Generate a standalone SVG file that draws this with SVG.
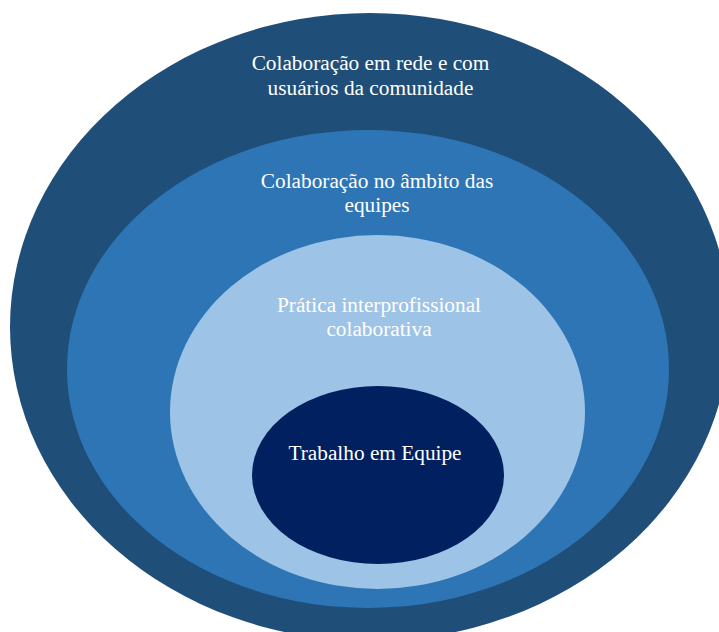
<svg xmlns="http://www.w3.org/2000/svg" width="719" height="632" viewBox="0 0 719 632">
  <style>
    .lbl { font-family: "Liberation Serif", "Times New Roman", serif; font-size: 21.3px; fill: #ffffff; text-anchor: middle; }
  </style>
  <rect x="0" y="0" width="719" height="632" fill="#ffffff"/>
  <!-- nested collaboration levels, outermost first -->
  <g id="rede">
    <ellipse cx="370" cy="327" rx="360" ry="314" fill="#1F4E79"/>
    <text class="lbl" x="370.5" y="70">Colaboração em rede e com</text>
    <text class="lbl" x="370.5" y="95">usuários da comunidade</text>
  </g>
  <g id="equipes">
    <ellipse cx="368" cy="369" rx="301" ry="239" fill="#2E75B6"/>
    <text class="lbl" x="377" y="188">Colaboração no âmbito das</text>
    <text class="lbl" x="377" y="212">equipes</text>
  </g>
  <g id="pratica">
    <ellipse cx="377.5" cy="412" rx="207.5" ry="177" fill="#9DC3E6"/>
    <text class="lbl" x="379" y="312">Prática interprofissional</text>
    <text class="lbl" x="379" y="336">colaborativa</text>
  </g>
  <g id="trabalho">
    <ellipse cx="378" cy="475" rx="126" ry="89" fill="#002060"/>
    <text class="lbl" x="375" y="460">Trabalho em Equipe</text>
  </g>
  <g id="connectors"/>
</svg>
